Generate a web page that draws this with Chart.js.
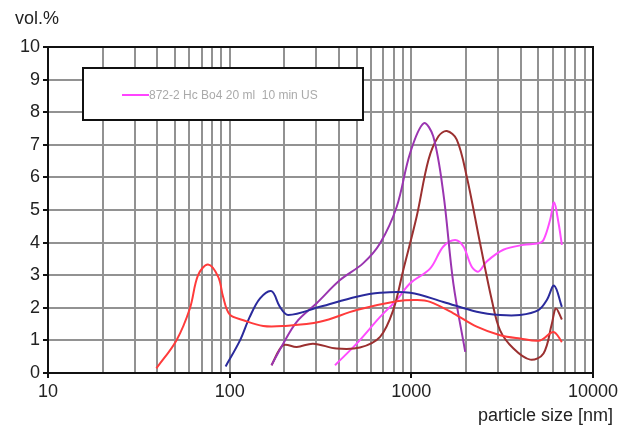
<!DOCTYPE html>
<html>
<head>
<meta charset="utf-8">
<script src="https://cdn.jsdelivr.net/npm/chart.js@4"></script>
<style>
  html, body { margin: 0; padding: 0; background: #fff; }
  #wrap { width: 630px; height: 429px; }
</style>
</head>
<body>
<div id="wrap"><canvas id="psd-chart"></canvas></div>
<script>
// values (x = particle size in nm, y = vol.%)
const redX = [39.5, 50.9, 60.4, 67, 76, 86.5, 92, 100, 119, 153, 197, 314, 500, 831, 1080, 1268, 1703, 2290, 3080, 3970, 5120, 6060, 6740];
const redY = [0.14, 1.0, 1.98, 3.0, 3.33, 2.95, 2.34, 1.8, 1.62, 1.44, 1.44, 1.57, 1.93, 2.2, 2.24, 2.18, 1.83, 1.42, 1.16, 1.06, 1.0, 1.26, 0.95];

const blueX = [95, 114, 129, 147, 170, 189, 210, 314, 500, 673, 985, 1500, 2290, 3080, 3970, 5010, 5570, 6110, 6740];
const blueY = [0.2, 1.0, 1.72, 2.29, 2.51, 2.03, 1.78, 2.03, 2.34, 2.46, 2.46, 2.18, 1.88, 1.78, 1.78, 1.93, 2.24, 2.68, 2.03];

const purpleX = [170, 197, 234, 301, 405, 544, 673, 831, 985, 1170, 1320, 1500, 1703, 1980];
const purpleY = [0.24, 0.9, 1.57, 2.14, 2.85, 3.37, 3.98, 5.1, 6.75, 7.66, 7.26, 5.52, 2.75, 0.65];

const brownX = [170, 197, 234, 288, 388, 521, 673, 795, 903, 1070, 1243, 1410, 1568, 1778, 2018, 2390, 2773, 3080, 3650, 4510, 5340, 5940, 6250, 6740];
const brownY = [0.24, 0.85, 0.8, 0.9, 0.75, 0.78, 1.11, 1.93, 3.16, 4.8, 6.54, 7.26, 7.42, 7.16, 6.03, 3.98, 2.24, 1.31, 0.75, 0.41, 0.6, 1.52, 1.98, 1.64];

const magentaX = [380, 500, 673, 831, 985, 1268, 1500, 1742, 1935, 2150, 2340, 2600, 3210, 4140, 5010, 5340, 5810, 6110, 6460, 6740];
const magentaY = [0.24, 0.9, 1.72, 2.24, 2.75, 3.2, 3.88, 4.08, 3.88, 3.26, 3.11, 3.42, 3.78, 3.93, 3.98, 4.08, 4.7, 5.23, 4.6, 3.93];

const xGrid = [10, 20, 30, 40, 50, 60, 70, 80, 90,
               100, 200, 300, 400, 500, 600, 700, 800, 900,
               1000, 2000, 3000, 4000, 5000, 6000, 7000, 8000, 9000, 10000];
const xTickLabels = [10, 100, 1000, 10000];
const legendText = '872-2 Hc Bo4 20 ml  10 min US';

const FONT = "'Liberation Sans', Arial, sans-serif";

function toPoints(xs, ys) {
    return xs.map((x, i) => ({ x: x, y: ys[i] }));
}

function series(xs, ys, color) {
    return {
        data: toPoints(xs, ys),
        borderColor: color,
        borderWidth: 2,
        pointRadius: 0,
        fill: false,
        tension: 0.35
    };
}

// frame, legend box and the two axis captions
const decorPlugin = {
    id: 'decor',
    beforeDatasetsDraw(chart) {
        const ctx = chart.ctx;
        ctx.save();
        ctx.fillStyle = '#fff';
        ctx.fillRect(83, 68, 280, 52);
        ctx.strokeStyle = '#111';
        ctx.lineWidth = 2;
        ctx.strokeRect(83, 68, 280, 52);
        ctx.strokeStyle = '#ff44ff';
        ctx.beginPath();
        ctx.moveTo(122, 95);
        ctx.lineTo(149, 95);
        ctx.stroke();
        ctx.fillStyle = '#aaaaaa';
        ctx.font = '12px ' + FONT;
        ctx.textBaseline = 'middle';
        ctx.fillText(legendText, 149, 95.5);
        ctx.restore();
    },
    afterDraw(chart) {
        const ctx = chart.ctx;
        const a = chart.chartArea;
        ctx.save();
        ctx.strokeStyle = '#111';
        ctx.lineWidth = 2;
        ctx.strokeRect(a.left, a.top, a.right - a.left, a.bottom - a.top);
        ctx.fillStyle = '#222';
        ctx.font = '18px ' + FONT;
        ctx.textBaseline = 'alphabetic';
        ctx.fillText('vol.%', 15, 24);
        ctx.textAlign = 'right';
        ctx.fillText('particle size [nm]', 613, 421);
        ctx.restore();
    }
};

document.addEventListener('DOMContentLoaded', function () {
    const ctx = document.getElementById('psd-chart').getContext('2d');

    new Chart(ctx, {
        type: 'line',
        data: {
            datasets: [
                series(redX, redY, '#ff3b3b'),
                series(blueX, blueY, '#2a2a9c'),
                series(purpleX, purpleY, '#9a35b0'),
                series(brownX, brownY, '#9b3030'),
                series(magentaX, magentaY, '#ff4cff')
            ]
        },
        options: {
            responsive: true,
            maintainAspectRatio: false,
            animation: false,
            layout: {
                padding: { left: 0, right: 37, top: 47, bottom: 0 }
            },
            scales: {
                x: {
                    type: 'logarithmic',
                    min: 10,
                    max: 10000,
                    afterBuildTicks: function (scale) {
                        scale.ticks = xGrid.map(v => ({ value: v }));
                    },
                    afterFit: function (scale) {
                        scale.height = 56;
                    },
                    grid: {
                        color: '#929292',
                        lineWidth: 2,
                        tickLength: 5,
                        tickColor: c => xTickLabels.includes(c.tick.value) ? '#111' : 'rgba(0,0,0,0)'
                    },
                    border: { color: '#111', width: 2 },
                    ticks: {
                        autoSkip: false,
                        maxRotation: 0,
                        padding: 3,
                        color: '#222',
                        font: { family: FONT, size: 18 },
                        callback: function (value) {
                            return xTickLabels.includes(value) ? String(value) : '';
                        }
                    }
                },
                y: {
                    min: 0,
                    max: 10,
                    afterFit: function (scale) {
                        scale.width = 48;
                    },
                    grid: {
                        color: '#929292',
                        lineWidth: 2,
                        tickLength: 5,
                        tickColor: '#111'
                    },
                    border: { color: '#111', width: 2 },
                    ticks: {
                        stepSize: 1,
                        padding: 3,
                        color: '#222',
                        font: { family: FONT, size: 18 }
                    }
                }
            },
            plugins: {
                legend: { display: false },
                tooltip: { enabled: false }
            }
        },
        plugins: [decorPlugin]
    });
});
</script>
</body>
</html>
